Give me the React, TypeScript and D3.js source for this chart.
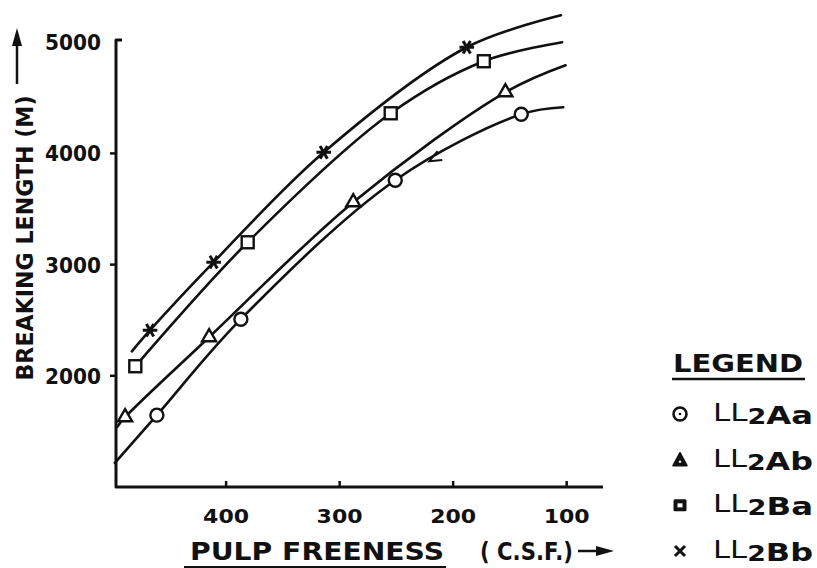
import React, { useEffect, useRef } from 'react';
import * as d3 from 'd3';

// axis ticks
const xTicks = [400, 300, 200, 100];
const yTicks = [2000, 3000, 4000, 5000];

// plotted points, [freeness (C.S.F.), breaking length (m)]
const ll2AaPoints = [[461, 1646], [387, 2509], [251, 3759], [140, 4352]];
const ll2AbPoints = [[489, 1628], [415, 2347], [288, 3561], [154, 4550]];
const ll2BaPoints = [[480, 2086], [381, 3201], [255, 4361], [173, 4829]];
const ll2BbPoints = [[467, 2410], [411, 3022], [314, 4010], [188, 4955]];

// where each hand drawn curve starts and stops
const ll2AaEnds = [[498, 1216], [103, 4415]];
const ll2AbEnds = [[496, 1540], [101, 4793]];
const ll2BaEnds = [[483, 2050], [104, 5000]];
const ll2BbEnds = [[483, 2220], [105, 5243]];

const seriesNames = ['LL2Aa', 'LL2Ab', 'LL2Ba', 'LL2Bb'];
const legendParts = [['LL', '2', 'Aa'], ['LL', '2', 'Ab'], ['LL', '2', 'Ba'], ['LL', '2', 'Bb']];

const INK = '#111';
const FONT = '"DejaVu Sans", sans-serif';

const W = 817;
const H = 568;

const App = () => {
  const chartRef = useRef<HTMLDivElement>(null);

  useEffect(() => {
    document.body.style.margin = '0';
    d3.select(chartRef.current).select('svg').remove();

    const x = d3.scaleLinear().domain([497, 68]).range([116, 603]);
    const y = d3.scaleLinear().domain([1000, 5020]).range([487, 40]);

    const series = [
      { name: seriesNames[0], points: ll2AaPoints, ends: ll2AaEnds, shape: 'circle' },
      { name: seriesNames[1], points: ll2AbPoints, ends: ll2AbEnds, shape: 'triangle' },
      { name: seriesNames[2], points: ll2BaPoints, ends: ll2BaEnds, shape: 'square' },
      { name: seriesNames[3], points: ll2BbPoints, ends: ll2BbEnds, shape: 'star' },
    ];

    const svg = d3.select(chartRef.current)
      .append('svg')
      .attr('width', W)
      .attr('height', H)
      .style('display', 'block')
      .style('background', '#fff');

    // axes
    const axes = svg.append('g').attr('stroke', INK).attr('stroke-width', 3).attr('fill', 'none');
    axes.append('path')
      .attr('d', `M${x(497) + 6},${y(5020)} L${x(497)},${y(5020)} L${x(497)},${y(1000)} L${x(68)},${y(1000)}`)
      .attr('stroke-linejoin', 'round');
    axes.selectAll('line.yt')
      .data(yTicks.slice(0, 3))
      .enter()
      .append('line')
      .attr('x1', x(497) - 6)
      .attr('x2', x(497))
      .attr('y1', d => y(d))
      .attr('y2', d => y(d))
      .attr('stroke-width', 2.5);
    axes.selectAll('line.xt')
      .data(xTicks)
      .enter()
      .append('line')
      .attr('x1', d => x(d))
      .attr('x2', d => x(d))
      .attr('y1', y(1000))
      .attr('y2', y(1000) - 6)
      .attr('stroke-width', 2.5);

    // tick labels
    svg.append('g')
      .selectAll('text')
      .data(yTicks)
      .enter()
      .append('text')
      .attr('x', 101)
      .attr('y', d => y(d) + 8)
      .attr('text-anchor', 'end')
      .attr('textLength', 56)
      .attr('lengthAdjust', 'spacingAndGlyphs')
      .style('font', `bold 22px ${FONT}`)
      .style('fill', INK)
      .text(d => d);

    svg.append('g')
      .selectAll('text')
      .data(xTicks)
      .enter()
      .append('text')
      .attr('x', d => x(d) - 23)
      .attr('y', 523)
      .attr('textLength', 46)
      .attr('lengthAdjust', 'spacingAndGlyphs')
      .style('font', `bold 19px ${FONT}`)
      .style('fill', INK)
      .text(d => d);

    // curves
    const line = d3.line<number[]>()
      .x(d => x(d[0]))
      .y(d => y(d[1]))
      .curve(d3.curveCatmullRom.alpha(0.5));

    svg.append('g')
      .selectAll('path')
      .data(series)
      .enter()
      .append('path')
      .attr('d', s => line([s.ends[0], ...s.points, s.ends[1]]))
      .attr('fill', 'none')
      .attr('stroke', INK)
      .attr('stroke-width', 2.6)
      .attr('stroke-linecap', 'round');

    // small arrow drawn on the LL2Aa curve
    const ax = x(221);
    const ay = y(3930);
    svg.append('path')
      .attr('d', 'M-12,-5 L0,0 L-12,5')
      .attr('transform', `translate(${ax},${ay}) rotate(152)`)
      .attr('fill', 'none')
      .attr('stroke', INK)
      .attr('stroke-width', 2);

    // markers
    const drawMarker = (g, shape, cx, cy) => {
      if (shape === 'circle') {
        g.append('circle').attr('cx', cx).attr('cy', cy).attr('r', 6.5)
          .attr('fill', '#fff').attr('stroke', INK).attr('stroke-width', 2.4);
      } else if (shape === 'triangle') {
        g.append('path').attr('d', d3.symbol(d3.symbolTriangle, 85)())
          .attr('transform', `translate(${cx},${cy})`)
          .attr('fill', '#fff').attr('stroke', INK).attr('stroke-width', 2.4);
      } else if (shape === 'square') {
        g.append('rect').attr('x', cx - 6).attr('y', cy - 6).attr('width', 12).attr('height', 12)
          .attr('fill', '#fff').attr('stroke', INK).attr('stroke-width', 2.4);
      } else {
        g.append('path').attr('d', d3.symbol(d3.symbolAsterisk, 150)())
          .attr('transform', `translate(${cx},${cy}) rotate(90)`)
          .attr('fill', 'none').attr('stroke', INK).attr('stroke-width', 3);
      }
    };

    const markers = svg.append('g');
    series.forEach(s => {
      s.points.forEach(p => drawMarker(markers, s.shape, x(p[0]), y(p[1])));
    });

    // axis titles
    const yTitle = svg.append('g');
    yTitle.append('text')
      .attr('transform', 'translate(33,238) rotate(-90)')
      .attr('text-anchor', 'middle')
      .attr('textLength', 285)
      .attr('lengthAdjust', 'spacingAndGlyphs')
      .style('font', `bold 23px ${FONT}`)
      .style('fill', INK)
      .text('BREAKING LENGTH (M)');
    yTitle.append('line')
      .attr('x1', 17).attr('x2', 17).attr('y1', 84).attr('y2', 42)
      .attr('stroke', INK).attr('stroke-width', 2.5);
    yTitle.append('path')
      .attr('d', 'M12,46 L17,28 L22,46 Z')
      .attr('fill', INK);

    const xTitle = svg.append('g').style('fill', INK);
    xTitle.append('text')
      .attr('x', 190).attr('y', 560)
      .attr('textLength', 254)
      .attr('lengthAdjust', 'spacingAndGlyphs')
      .style('font', `bold 24px ${FONT}`)
      .text('PULP FREENESS');
    xTitle.append('text')
      .attr('x', 480).attr('y', 560)
      .attr('textLength', 93)
      .attr('lengthAdjust', 'spacingAndGlyphs')
      .style('font', `bold 24px ${FONT}`)
      .text('( C.S.F.)');
    xTitle.append('line')
      .attr('x1', 184).attr('x2', 446).attr('y1', 567).attr('y2', 567)
      .attr('stroke', INK).attr('stroke-width', 2);
    xTitle.append('line')
      .attr('x1', 578).attr('x2', 600).attr('y1', 551).attr('y2', 551)
      .attr('stroke', INK).attr('stroke-width', 2.5);
    xTitle.append('path')
      .attr('d', 'M596,546 L614,551 L596,556 Z');

    // legend
    const legend = svg.append('g').style('fill', INK);
    legend.append('text')
      .attr('x', 673).attr('y', 372)
      .attr('textLength', 130)
      .attr('lengthAdjust', 'spacingAndGlyphs')
      .style('font', `bold 25px ${FONT}`)
      .text('LEGEND');
    legend.append('line')
      .attr('x1', 672).attr('x2', 805).attr('y1', 379).attr('y2', 379)
      .attr('stroke', INK).attr('stroke-width', 2.5);

    const rowY = d3.scalePoint().domain(seriesNames).range([414, 551]);

    series.forEach((s, i) => {
      const cy = rowY(s.name);
      const cx = 680;
      if (s.shape === 'circle') {
        legend.append('circle').attr('cx', cx).attr('cy', cy).attr('r', 6.5)
          .attr('fill', '#fff').attr('stroke', INK).attr('stroke-width', 2.6);
        legend.append('circle').attr('cx', cx).attr('cy', cy).attr('r', 1.3);
      } else if (s.shape === 'triangle') {
        legend.append('path').attr('d', 'M0,-7 L7,6 L-7,6 Z')
          .attr('transform', `translate(${cx},${cy})`)
          .attr('stroke', INK).attr('stroke-width', 1.5).attr('stroke-linejoin', 'round');
        legend.append('circle').attr('cx', cx).attr('cy', cy + 2).attr('r', 1.2).attr('fill', '#fff');
      } else if (s.shape === 'square') {
        legend.append('rect').attr('x', cx - 6.5).attr('y', cy - 6).attr('width', 13).attr('height', 12)
          .attr('rx', 1.5);
        legend.append('rect').attr('x', cx - 2.5).attr('y', cy - 2).attr('width', 5).attr('height', 4)
          .attr('fill', '#fff');
      } else {
        legend.append('path').attr('d', 'M-5,-5 L5,5 M5,-5 L-5,5')
          .attr('transform', `translate(${cx},${cy})`)
          .attr('stroke', INK).attr('stroke-width', 3);
      }

      const parts = legendParts[i];
      const t = legend.append('text')
        .attr('x', 713).attr('y', cy + 10)
        .attr('textLength', 100)
        .attr('lengthAdjust', 'spacingAndGlyphs')
        .style('font', `bold 25px ${FONT}`);
      t.append('tspan').attr('dy', -3).style('font-weight', 'normal').style('font-size', '24px').text(parts[0]);
      t.append('tspan').attr('dy', 3).style('font-size', '21px').text(parts[1]);
      t.append('tspan').text(parts[2]);
    });
  }, []);

  return (
    <div ref={chartRef}></div>
  );
};

export default App;
